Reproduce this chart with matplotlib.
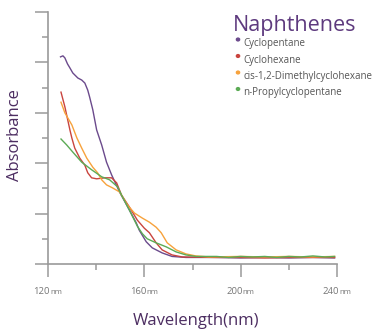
import matplotlib
matplotlib.use("Agg")
import matplotlib.pyplot as plt
from matplotlib.ticker import MultipleLocator

plt.rcParams['font.family'] = ['Open Sans', 'DejaVu Sans']

# Absorbance spectra of naphthenes (wavelength in nm, absorbance in arbitrary units)
cyclopentane_nm = [125.2, 126.2, 127.0, 128.1, 129.1, 130.3, 132.4, 134.0, 135.3, 136.5,
                   137.3, 138.6, 140.2, 142.3, 144.3, 146.4, 149.7, 153.8, 156.7, 157.9,
                   160.8, 163.3, 167.4, 171.5, 177.3, 190, 200, 210, 220, 230, 239]
cyclopentane_abs = [4.11, 4.13, 4.09, 3.97, 3.89, 3.79, 3.69, 3.65, 3.59, 3.45,
                    3.31, 3.06, 2.66, 2.36, 2.02, 1.77, 1.43, 1.07, 0.81, 0.67,
                    0.44, 0.32, 0.22, 0.15, 0.13, 0.13, 0.12, 0.13, 0.12, 0.13, 0.12]

cyclohexane_nm = [125.4, 127.0, 129.1, 129.9, 131.1, 133.2, 135.3, 136.5, 138.1, 140.2,
                  143.5, 146.4, 148.5, 150.5, 153.8, 157.1, 160.0, 162.1, 164.9, 167.4,
                  171.5, 175.7, 190, 200, 210, 220, 230, 239]
cyclohexane_abs = [3.41, 3.12, 2.66, 2.50, 2.30, 2.10, 1.96, 1.81, 1.71, 1.69,
                   1.71, 1.71, 1.61, 1.37, 1.13, 0.87, 0.71, 0.62, 0.42, 0.28,
                   0.18, 0.14, 0.13, 0.13, 0.12, 0.13, 0.13, 0.13]

dimethyl_nm = [125.4, 127.0, 129.9, 132.0, 134.0, 136.1, 138.6, 140.6, 142.3, 144.3,
               146.8, 149.7, 150.5, 153.0, 155.9, 159.2, 162.1, 164.9, 167.0, 169.5,
               173.2, 177.3, 181.4, 186.8, 200, 210, 220, 230, 239]
dimethyl_abs = [3.21, 3.00, 2.76, 2.50, 2.30, 2.10, 1.92, 1.81, 1.67, 1.57,
                1.51, 1.43, 1.37, 1.17, 1.01, 0.91, 0.83, 0.73, 0.62, 0.42,
                0.28, 0.20, 0.16, 0.14, 0.15, 0.14, 0.15, 0.14, 0.15]

propyl_nm = [125.4, 127.8, 130.3, 134.0, 138.1, 142.3, 145.6, 148.9, 150.5, 153.8,
             157.1, 159.2, 161.2, 164.9, 169.1, 173.2, 177.3, 181.4, 190, 195, 200,
             205, 210, 215, 220, 225, 230, 235, 239]
propyl_abs = [2.48, 2.36, 2.22, 2.02, 1.87, 1.73, 1.67, 1.53, 1.37, 1.07,
              0.75, 0.60, 0.50, 0.42, 0.34, 0.24, 0.18, 0.15, 0.15, 0.13, 0.15,
              0.14, 0.15, 0.13, 0.15, 0.14, 0.16, 0.14, 0.15]

series_names = ["Cyclopentane", "Cyclohexane", "cis-1,2-Dimethylcyclohexane", "n-Propylcyclopentane"]
series_x = [cyclopentane_nm, cyclohexane_nm, dimethyl_nm, propyl_nm]
series_y = [cyclopentane_abs, cyclohexane_abs, dimethyl_abs, propyl_abs]
colors = ["#6b4a8c", "#c9443e", "#f7a23c", "#5cab55"]

x_ticks = [120, 160, 200, 240]

W, H = 383, 335
fig = plt.figure(figsize=(W / 100, H / 100), dpi=100)
ax = fig.add_axes([48 / W, (H - 264) / H, (337 - 48) / W, (264 - 12) / H])

for xs, ys, c in zip(series_x, series_y, colors):
    ax.plot(xs, ys, color=c, lw=1.0, solid_joinstyle='round')

ax.set_xlim(120, 240)
ax.set_ylim(0, 5)

axis_gray = "#9a9a9a"
for s in ["top", "right"]:
    ax.spines[s].set_visible(False)
for s in ["left", "bottom"]:
    ax.spines[s].set_color(axis_gray)
    ax.spines[s].set_linewidth(1.2)

ax.xaxis.set_major_locator(MultipleLocator(40))
ax.xaxis.set_minor_locator(MultipleLocator(20))
ax.yaxis.set_major_locator(MultipleLocator(1))
ax.yaxis.set_minor_locator(MultipleLocator(0.5))
ax.tick_params(which='major', length=9.5, width=1.1, color=axis_gray, direction='out')
ax.tick_params(which='minor', length=4.5, width=1.1, color=axis_gray, direction='out')
ax.tick_params(labelleft=False, labelbottom=False)

# tick labels: number followed by a smaller unit
for t in x_ticks:
    ax.annotate(str(t), xy=(t, 0), xycoords=('data', 'axes fraction'),
                xytext=(1.5, -20), textcoords='offset points',
                ha='right', va='center', fontsize=6.8, color="#777777")
    ax.annotate("nm", xy=(t, 0), xycoords=('data', 'axes fraction'),
                xytext=(1.5, -20.3), textcoords='offset points',
                ha='left', va='center', fontsize=5.6, color="#777777")

label_purple = "#4c2d61"
fig.text(15.5 / W, 1 - 135 / H, "Absorbance", rotation=90, ha='center', va='center',
         fontsize=12, color=label_purple)
fig.text(196 / W, 1 - 321 / H, "Wavelength(nm)", ha='center', va='center',
         fontsize=12, color=label_purple)

# legend block
fig.text(233 / W, 1 - 30.5 / H, "Naphthenes", ha='left', va='baseline',
         fontsize=15.5, color="#5e3a7e")
baselines = [46, 62.5, 79, 95.5]
for name, c, yb in zip(series_names, colors, baselines):
    fig.text(243.5 / W, 1 - yb / H, name, ha='left', va='baseline',
             fontsize=7, color="#555555")
    fig.patches.append(plt.Circle((238 / W, 1 - (yb - 6.5) / H), 1.6 / W,
                                  transform=fig.transFigure, color=c, figure=fig))

fig.savefig("out.png", dpi=100)
